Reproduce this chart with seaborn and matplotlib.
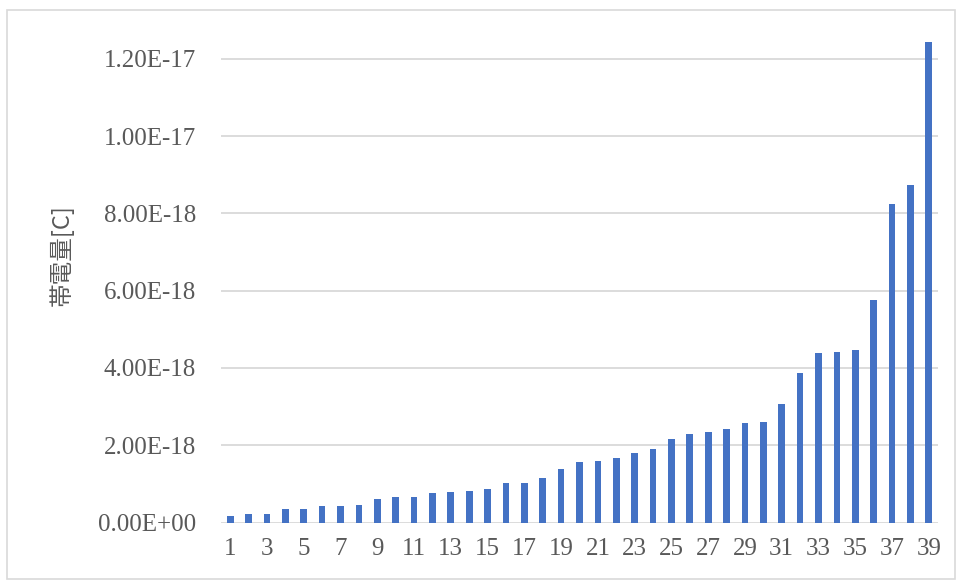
import matplotlib
matplotlib.use("Agg")
import matplotlib.pyplot as plt
import matplotlib.ticker as mticker
from matplotlib.patches import Rectangle
import seaborn as sns
import pandas as pd

sns.set_theme(style="white")
plt.rcParams['font.family'] = ['Liberation Serif', 'Noto Sans CJK JP', 'DejaVu Sans']

categories = [str(i) for i in range(1, 40)]
charge_e18 = [0.18, 0.21, 0.23, 0.355, 0.355, 0.43, 0.43, 0.46, 0.61, 0.65,
              0.67, 0.76, 0.78, 0.82, 0.87, 1.03, 1.03, 1.14, 1.39, 1.56,
              1.59, 1.66, 1.79, 1.91, 2.16, 2.30, 2.34, 2.42, 2.57, 2.59,
              3.07, 3.88, 4.38, 4.42, 4.46, 5.76, 8.24, 8.73, 12.43]
values = [v * 1e-18 for v in charge_e18]
y_ticks = [0, 2e-18, 4e-18, 6e-18, 8e-18, 1e-17, 1.2e-17]
x_tick_labels = categories[::2]

df = pd.DataFrame({"n": categories, "q": values})

fig = plt.figure(figsize=(9.56, 5.8), dpi=100)
fig.patches.append(Rectangle((7/956, 1 - 579/580), 948/956, 569/580,
                             transform=fig.transFigure, fill=False,
                             edgecolor="#D9D9D9", linewidth=1.2))
ax = fig.add_axes([221/956, 1 - 522.5/580, 717/956, 483/580])

sns.barplot(data=df, x="n", y="q", color="#4472C4", width=0.36,
            saturation=1, linewidth=0, ax=ax, order=categories)

ax.set_xlim(-0.5, 38.5)
ax.set_ylim(0, 1.25e-17)
ax.set_yticks(y_ticks)
ax.yaxis.set_major_formatter(mticker.FuncFormatter(lambda v, p: f"{v:.2E}"))
ax.set_xticks(range(0, 39, 2))
ax.set_xticklabels(x_tick_labels)

ax.grid(axis="y", color="#D9D9D9", linewidth=1.3)
ax.set_axisbelow(True)
for s in ax.spines.values():
    s.set_visible(False)
ax.tick_params(axis="both", length=0, labelsize=18, colors="#595959")
ax.tick_params(axis="y", pad=18)
ax.tick_params(axis="x", pad=11)

ax.set_xlabel("")
ax.set_ylabel("帯電量[C]", fontsize=17, color="#595959",
              family=['Noto Sans CJK JP', 'DejaVu Sans'])
ax.yaxis.set_label_coords(-0.205, 0.554)

fig.savefig("out.png", dpi=100)
